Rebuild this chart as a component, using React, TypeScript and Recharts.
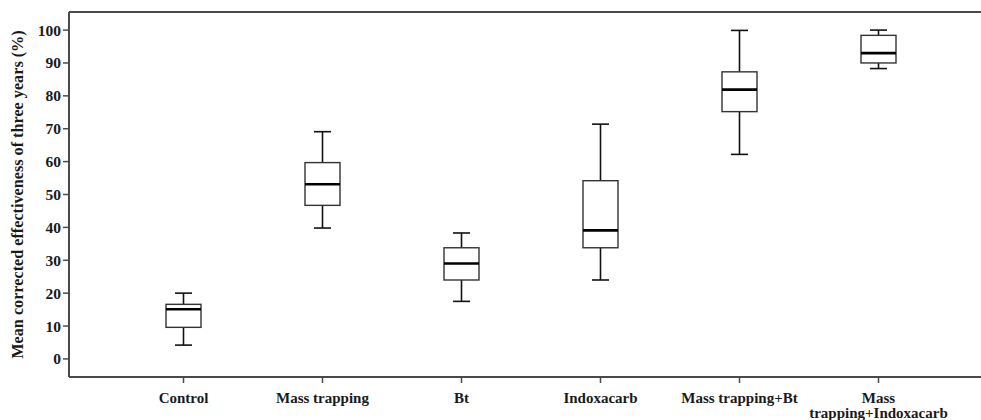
import { Bar, ComposedChart, ReferenceLine, XAxis, YAxis } from "recharts"

const categories = [
  "Control",
  "Mass trapping",
  "Bt",
  "Indoxacarb",
  "Mass trapping+Bt",
  "Mass trapping+Indoxacarb",
]
const minValues = [4.2, 39.8, 17.5, 24.0, 62.2, 88.3]
const q1Values = [9.6, 46.7, 24.0, 33.8, 75.2, 90.0]
const medianValues = [15.1, 53.1, 29.0, 39.1, 81.9, 93.0]
const q3Values = [16.6, 59.7, 33.8, 54.2, 87.3, 98.4]
const maxValues = [20.0, 69.1, 38.3, 71.4, 99.9, 100.0]
const yTicks = [0, 10, 20, 30, 40, 50, 60, 70, 80, 90, 100]

const data = categories.map((name, i) => ({
  name,
  min: minValues[i],
  q1: q1Values[i],
  median: medianValues[i],
  q3: q3Values[i],
  max: maxValues[i],
  range: [minValues[i], maxValues[i]],
}))

const FONT = "'Liberation Serif', 'DejaVu Serif', serif"
const AXIS = "#4a4a4a"

// bar spans min..max, everything else is placed relative to that span
const BoxShape = (props: any) => {
  const { x, y, width, height, payload } = props
  const { min, max } = payload
  const toY = (v: number) => y + ((max - v) / (max - min)) * height
  const cx = x + width / 2
  const cap = 17
  return (
    <g>
      <line x1={cx} x2={cx} y1={toY(max)} y2={toY(payload.q3)} stroke="#111" strokeWidth={1.6} />
      <line x1={cx} x2={cx} y1={toY(payload.q1)} y2={toY(min)} stroke="#111" strokeWidth={1.6} />
      <line x1={cx - cap / 2} x2={cx + cap / 2} y1={toY(max)} y2={toY(max)} stroke="#111" strokeWidth={1.6} />
      <line x1={cx - cap / 2} x2={cx + cap / 2} y1={toY(min)} y2={toY(min)} stroke="#111" strokeWidth={1.6} />
      <rect
        x={x}
        y={toY(payload.q3)}
        width={width}
        height={toY(payload.q1) - toY(payload.q3)}
        fill="#fff"
        stroke="#333"
        strokeWidth={1.4}
      />
      <line x1={x} x2={x + width} y1={toY(payload.median)} y2={toY(payload.median)} stroke="#000" strokeWidth={2.6} />
    </g>
  )
}

const XTick = ({ x, y, payload }: any) => {
  const label: string = payload.value
  const lines = label === "Mass trapping+Indoxacarb" ? ["Mass", "trapping+Indoxacarb"] : [label]
  return (
    <text x={x} y={y} textAnchor="middle" fontFamily={FONT} fontWeight="bold" fontSize={15} fill="#1a1a1a">
      {lines.map((l, i) => (
        <tspan key={i} x={x} dy={i === 0 ? 18 : 15}>
          {l}
        </tspan>
      ))}
    </text>
  )
}

const YLabel = ({ viewBox }: any) => {
  const cx = viewBox.x + 18
  const cy = viewBox.y + viewBox.height / 2
  return (
    <text
      x={cx}
      y={cy}
      transform={`rotate(-90, ${cx}, ${cy})`}
      textAnchor="middle"
      dominantBaseline="central"
      fontFamily={FONT}
      fontWeight="bold"
      fontSize={16.2}
      fill="#1a1a1a"
    >
      Mean corrected effectiveness of three years (%)
    </text>
  )
}

export default function App() {
  return (
    <div
      style={{ position: "absolute", left: 0, top: 0, width: 981, height: 420, overflow: "hidden", background: "#fff" }}
    >
      <ComposedChart width={1000} height={420} data={data} margin={{ top: 12, right: 5, left: 0, bottom: 0 }}>
        <XAxis
          dataKey="name"
          height={43}
          padding={{ left: 45, right: 47 }}
          axisLine={{ stroke: AXIS, strokeWidth: 2 }}
          tickLine={{ stroke: AXIS, strokeWidth: 1.5 }}
          tickSize={6}
          interval={0}
          tick={<XTick />}
        />
        <YAxis
          width={69}
          domain={[-5.5, 105.5]}
          ticks={yTicks}
          allowDataOverflow
          axisLine={{ stroke: AXIS, strokeWidth: 2 }}
          tickLine={{ stroke: AXIS, strokeWidth: 1.5 }}
          tickSize={6}
          tick={{ fontFamily: FONT, fontWeight: "bold", fontSize: 15.5, fill: "#1a1a1a" }}
          label={<YLabel />}
        />
        <ReferenceLine y={105.5} stroke={AXIS} strokeWidth={2} ifOverflow="extendDomain" />
        <Bar dataKey="range" barSize={35} shape={<BoxShape />} isAnimationActive={false} />
      </ComposedChart>
    </div>
  )
}
